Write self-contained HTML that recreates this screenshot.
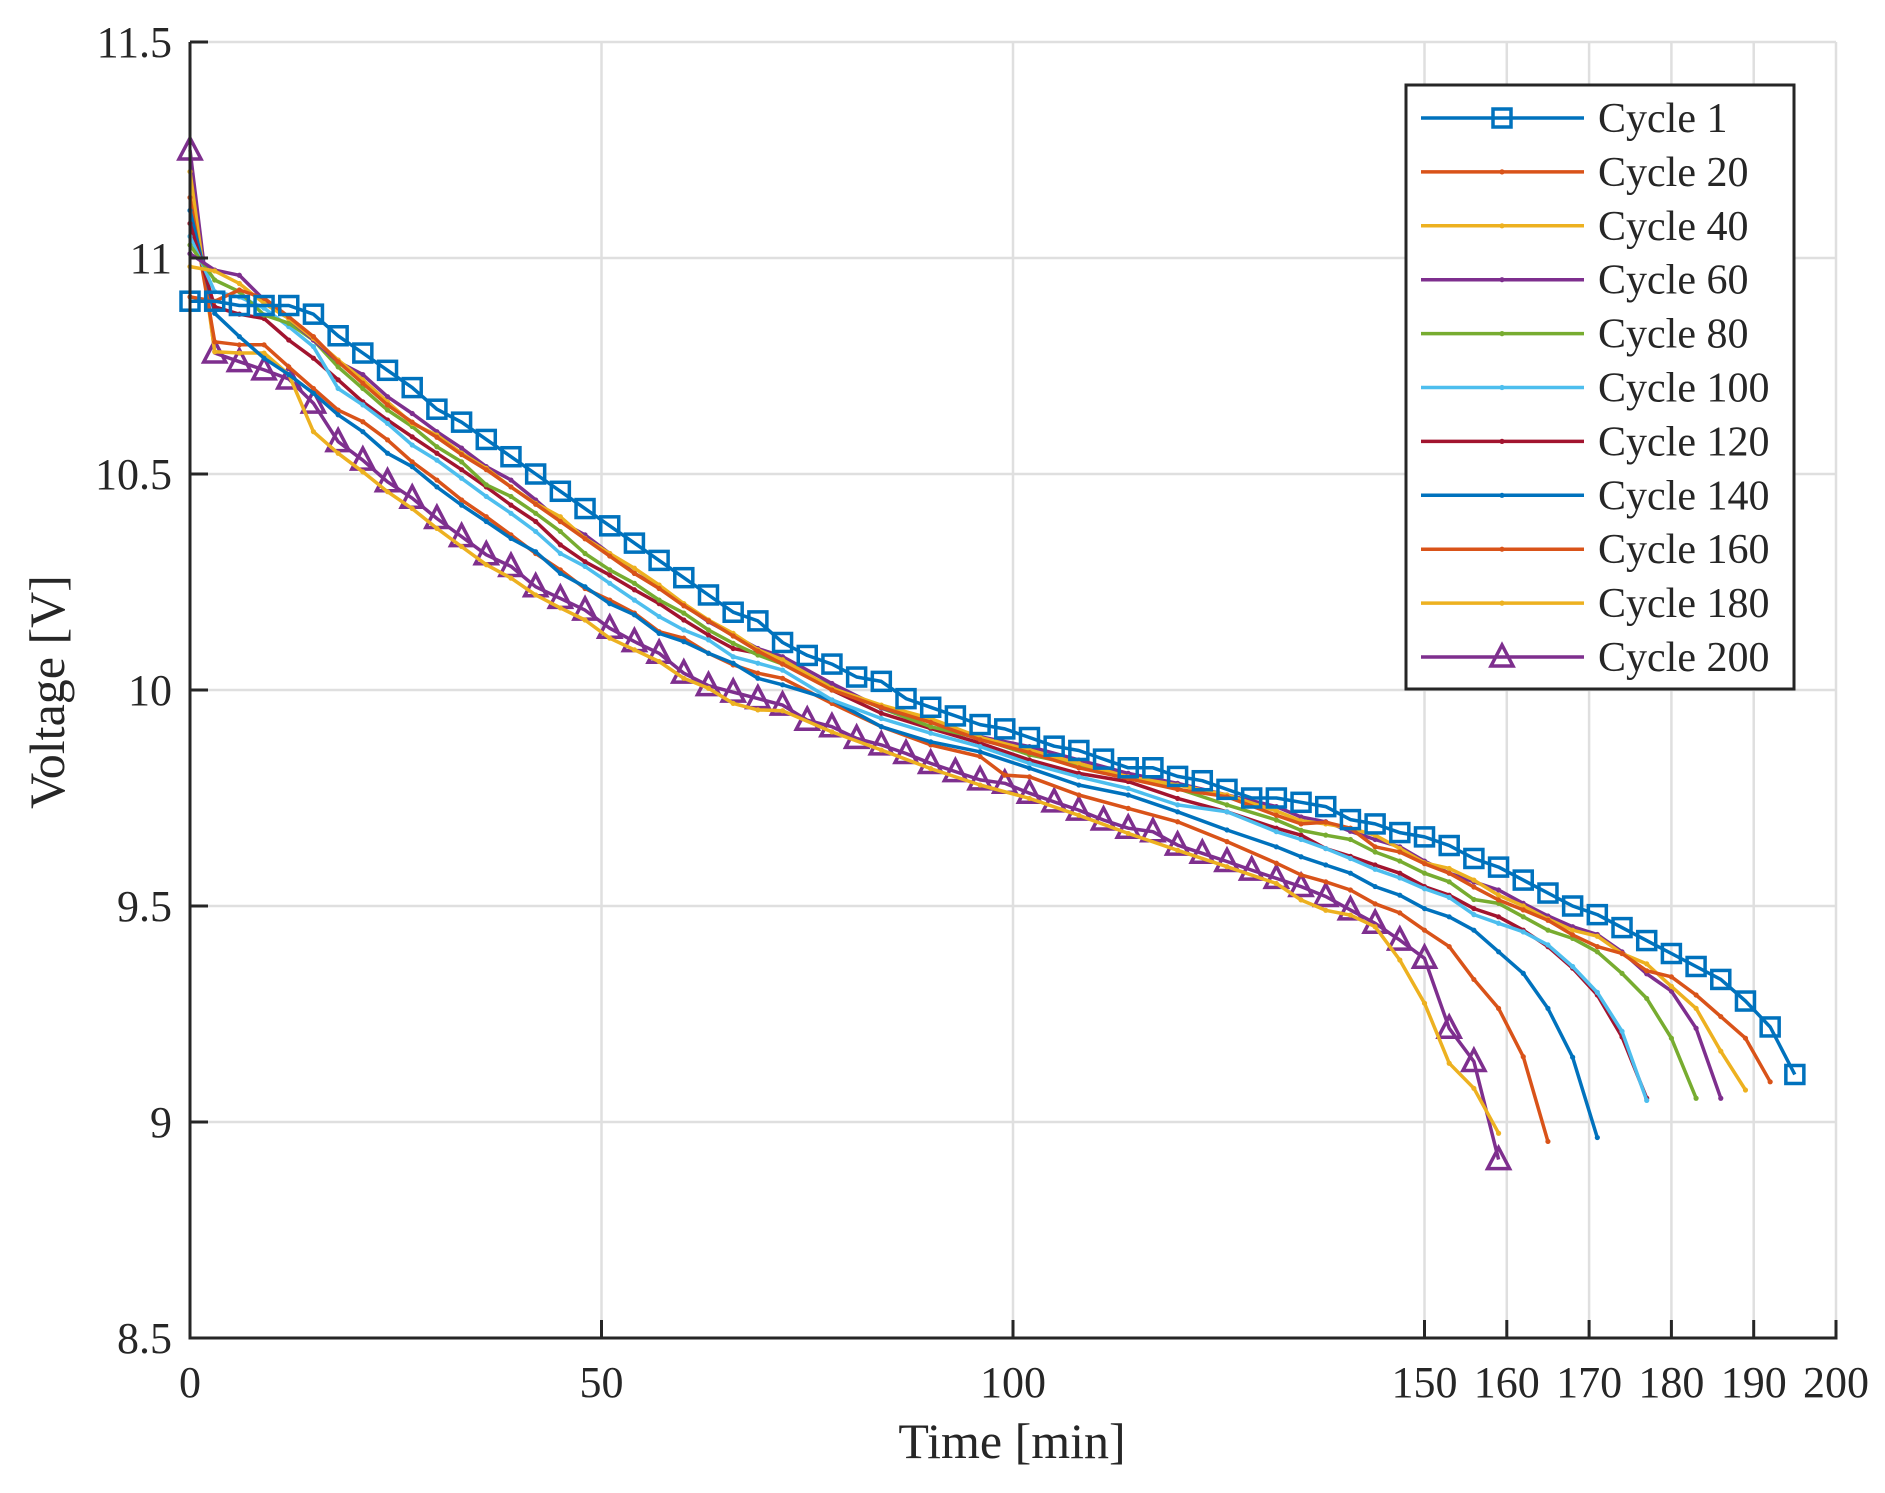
<!DOCTYPE html>
<html><head><meta charset="utf-8"><style>
html,body{margin:0;padding:0;background:#fff}
svg{display:block}
text{font-family:"Liberation Serif",serif;fill:#262626}
</style></head><body>
<svg id="chart" width="1885" height="1493" viewBox="0 0 1885 1493" xmlns="http://www.w3.org/2000/svg">
<rect x="0" y="0" width="1885" height="1493" fill="#fff"/>
<g id="grid"></g>
<g id="series"></g>
<g id="axes"></g>
<g id="legend"></g>
</svg>
<script>
const xTicks = [0, 50, 100, 150, 160, 170, 180, 190, 200];
const xTickLabels = ["0", "50", "100", "150", "160", "170", "180", "190", "200"];
const yTicks = [8.5, 9, 9.5, 10, 10.5, 11, 11.5];
const yTickLabels = ["8.5", "9", "9.5", "10", "10.5", "11", "11.5"];
const seriesNames = ["Cycle 1","Cycle 20","Cycle 40","Cycle 60","Cycle 80","Cycle 100","Cycle 120","Cycle 140","Cycle 160","Cycle 180","Cycle 200"];

function rng(a,b,s){const r=[];for(let t=a;t<=b+1e-9;t+=s)r.push(t);return r;}
const tEarly = rng(0,72,3);
const tMid = rng(78,132,6);

const c1T = rng(0,195,3);
const c1V = [10.9,10.9,10.89,10.89,10.89,10.87,10.82,10.78,10.74,10.70,10.65,10.62,10.58,10.54,10.50,10.46,10.42,10.38,10.34,10.30,10.26,10.22,10.18,10.16,10.11,10.08,10.06,10.03,10.02,9.98,9.96,9.94,9.92,9.91,9.89,9.87,9.86,9.84,9.82,9.82,9.80,9.79,9.77,9.75,9.75,9.74,9.73,9.70,9.69,9.67,9.66,9.64,9.61,9.59,9.56,9.53,9.50,9.48,9.45,9.42,9.39,9.36,9.33,9.28,9.22,9.11];

const c20T = tEarly.concat(tMid, rng(135,192,3));
const c20V = [10.91,10.90,10.926,10.907,10.864,10.818,10.76,10.71,10.66,10.62,10.585,10.545,10.51,10.47,10.43,10.39,10.35,10.31,10.27,10.235,10.195,10.16,10.125,10.09,10.06,
10.0,9.96,9.925,9.885,9.855,9.82,9.795,9.77,9.753,9.71,
9.69,9.694,9.68,9.637,9.625,9.598,9.576,9.544,9.514,9.491,9.467,9.433,9.406,9.39,9.35,9.336,9.294,9.244,9.194,9.093];

const c40T = tEarly.concat(tMid, rng(135,189,3));
const c40V = [10.98,10.97,10.941,10.895,10.86,10.814,10.764,10.718,10.667,10.617,10.59,10.548,10.513,10.47,10.432,10.401,10.351,10.316,10.282,10.243,10.2,10.162,10.131,10.093,10.07,
10.004,9.965,9.934,9.89,9.861,9.83,9.799,9.78,9.757,9.72,
9.697,9.69,9.68,9.664,9.633,9.6,9.587,9.56,9.525,9.50,9.47,9.444,9.43,9.39,9.366,9.314,9.263,9.164,9.074];

const c60T = tEarly.concat(tMid, rng(135,186,3));
const c60V = [11.01,10.972,10.96,10.903,10.86,10.81,10.76,10.73,10.679,10.64,10.598,10.56,10.517,10.486,10.44,10.39,10.359,10.316,10.27,10.239,10.197,10.158,10.127,10.096,10.077,
10.015,9.958,9.927,9.892,9.869,9.838,9.807,9.784,9.757,9.73,
9.706,9.695,9.673,9.654,9.637,9.604,9.576,9.556,9.537,9.506,9.477,9.452,9.434,9.394,9.343,9.303,9.217,9.055];

const c80T = tEarly.concat(tMid, rng(135,183,3));
const c80V = [11.03,10.949,10.922,10.868,10.849,10.81,10.748,10.698,10.648,10.61,10.563,10.528,10.475,10.448,10.409,10.367,10.316,10.278,10.247,10.208,10.178,10.139,10.108,10.081,10.06,
10.008,9.958,9.915,9.888,9.85,9.826,9.803,9.772,9.734,9.699,
9.675,9.664,9.654,9.625,9.604,9.576,9.556,9.515,9.506,9.475,9.444,9.425,9.394,9.344,9.286,9.194,9.055];

const c100T = tEarly.concat(tMid, rng(135,177,3));
const c100V = [11.05,10.922,10.91,10.884,10.841,10.795,10.698,10.66,10.617,10.567,10.532,10.49,10.448,10.409,10.367,10.316,10.286,10.247,10.208,10.17,10.139,10.116,10.077,10.062,10.046,
9.977,9.934,9.9,9.869,9.83,9.799,9.772,9.734,9.718,9.672,
9.654,9.633,9.61,9.585,9.565,9.54,9.52,9.48,9.46,9.44,9.41,9.36,9.30,9.21,9.05];

const c120T = tEarly.concat(tMid, rng(135,177,3));
const c120V = [11.08,10.887,10.87,10.86,10.81,10.768,10.718,10.667,10.625,10.586,10.548,10.51,10.47,10.428,10.39,10.336,10.297,10.266,10.232,10.2,10.162,10.127,10.096,10.085,10.07,
10.0,9.946,9.911,9.877,9.838,9.807,9.788,9.749,9.718,9.68,
9.664,9.633,9.615,9.595,9.576,9.545,9.525,9.494,9.475,9.444,9.406,9.356,9.294,9.197,9.055];

const c140T = tEarly.concat(tMid, rng(135,171,3));
const c140V = [11.11,10.872,10.818,10.768,10.73,10.687,10.637,10.598,10.548,10.517,10.47,10.428,10.39,10.351,10.32,10.27,10.239,10.2,10.174,10.131,10.112,10.085,10.062,10.027,10.012,
9.977,9.915,9.88,9.857,9.819,9.78,9.757,9.718,9.676,9.637,
9.614,9.595,9.576,9.545,9.525,9.494,9.475,9.444,9.394,9.344,9.263,9.15,8.964];

const c160T = tEarly.concat([78,84,90,96,99,102,108,114,120,126,132], rng(135,165,3));
const c160V = [11.14,10.806,10.799,10.799,10.748,10.698,10.648,10.621,10.579,10.528,10.486,10.44,10.401,10.359,10.316,10.278,10.235,10.208,10.178,10.135,10.12,10.085,10.058,10.039,10.027,
9.969,9.915,9.873,9.846,9.803,9.799,9.757,9.726,9.695,9.649,9.599,
9.572,9.556,9.537,9.505,9.484,9.444,9.406,9.33,9.263,9.151,8.955];

const c180T = tEarly.concat(tMid, rng(135,159,3));
const c180V = [11.2,10.783,10.78,10.78,10.73,10.598,10.548,10.505,10.459,10.42,10.374,10.332,10.29,10.259,10.22,10.19,10.162,10.12,10.093,10.066,10.027,10.004,9.969,9.954,9.952,
9.903,9.861,9.818,9.78,9.749,9.71,9.668,9.629,9.591,9.552,
9.514,9.49,9.479,9.452,9.375,9.275,9.136,9.078,8.974];

const c200T = rng(0,159,3);
const c200V = [11.25,10.78,10.76,10.741,10.72,10.664,10.575,10.532,10.482,10.444,10.397,10.355,10.313,10.286,10.239,10.212,10.185,10.143,10.112,10.085,10.039,10.01,9.995,9.98,
9.965,9.93,9.915,9.888,9.873,9.853,9.83,9.811,9.792,9.784,9.761,9.741,9.722,9.699,9.68,9.672,9.641,9.622,9.603,9.583,9.564,
9.545,9.522,9.491,9.46,9.421,9.379,9.217,9.14,8.913];

const seriesT = [c1T,c20T,c40T,c60T,c80T,c100T,c120T,c140T,c160T,c180T,c200T];
const seriesV = [c1V,c20V,c40V,c60V,c80V,c100V,c120V,c140V,c160V,c180V,c200V];
const colors = ["#0072BD","#D95319","#EDB120","#7E2F8E","#77AC30","#4DBEEE","#A2142F","#0072BD","#D95319","#EDB120","#7E2F8E"];
const markers = ["square","dot","dot","dot","dot","dot","dot","dot","dot","dot","triangle"];

const X0=190, X1=1836, Y0=42, Y1=1338;
const xMin=0,xMax=200,yMin=8.5,yMax=11.5;
function xs(t){return X0+(t-xMin)/(xMax-xMin)*(X1-X0);}
function ys(v){return Y1-(v-yMin)/(yMax-yMin)*(Y1-Y0);}
const NS="http://www.w3.org/2000/svg";
function mk(tag,attrs,parent){const e=document.createElementNS(NS,tag);for(const k in attrs)e.setAttribute(k,attrs[k]);parent.appendChild(e);return e;}

const grid=document.getElementById('grid');
xTicks.forEach((t,i)=>{
  const g=mk('line',{x1:xs(t),x2:xs(t),y1:Y0,y2:Y1,stroke:'#dfdfdf','stroke-width':2.5},grid);
  
  
});
yTicks.forEach((v,i)=>{
  const g=mk('line',{x1:X0,x2:X1,y1:ys(v),y2:ys(v),stroke:'#dfdfdf','stroke-width':2.5},grid);
  
  
});

const sg=document.getElementById('series');
function marker(type,x,y,color,parent){
  let m;
  if(type==='square'){m=mk('rect',{x:x-9,y:y-9,width:18,height:18,fill:'none',stroke:color,'stroke-width':3.5},parent);}
  else if(type==='triangle'){m=mk('polygon',{points:`${x},${y-12} ${x-11},${y+9} ${x+11},${y+9}`,fill:'none',stroke:color,'stroke-width':3.5,'stroke-linejoin':'miter'},parent);}
  else {m=mk('circle',{cx:x,cy:y,r:2.6,fill:color},parent);}
  return m;
}
for(let s=seriesT.length-1;s>=0;s--){
  const T=seriesT[s],V=seriesV[s];
  const g=mk('g',{},sg);
  
  
  const pts=T.map((t,i)=>xs(t).toFixed(1)+','+ys(V[i]).toFixed(1)).join(' ');
  const pl=mk('polyline',{points:pts,fill:'none',stroke:colors[s],'stroke-width':3.5,'stroke-linejoin':'round'},g);
  
  
  T.forEach((t,i)=>{
    const m=marker(markers[s],xs(t),ys(V[i]),colors[s],g);
    
    
  });
}

const ax=document.getElementById('axes');
const yl=mk('line',{x1:X0,x2:X0,y1:Y0,y2:Y1+1.5,stroke:'#262626','stroke-width':3},ax);


const xl=mk('line',{x1:X0-1.5,x2:X1+1.5,y1:Y1,y2:Y1,stroke:'#262626','stroke-width':3},ax);


xTicks.forEach((t,i)=>{
  const tk=mk('line',{x1:xs(t),x2:xs(t),y1:Y1,y2:Y1-18,stroke:'#262626','stroke-width':3},ax);
  
  
  const tx=mk('text',{x:xs(t),y:1397,'text-anchor':'middle','font-size':44},ax);
  tx.textContent=xTickLabels[i];
  
  
});
yTicks.forEach((v,i)=>{
  const tk=mk('line',{x1:X0,x2:X0+18,y1:ys(v),y2:ys(v),stroke:'#262626','stroke-width':3},ax);
  
  
  const tx=mk('text',{x:172,y:ys(v)+15,'text-anchor':'end','font-size':44},ax);
  tx.textContent=yTickLabels[i];
  
  
});
const xt=mk('text',{x:1012,y:1458,'text-anchor':'middle','font-size':50},ax);
xt.textContent='Time [min]';


const yt=mk('text',{x:0,y:0,'text-anchor':'middle','font-size':50,transform:'translate(64,692) rotate(-90)'},ax);
yt.textContent='Voltage [V]';



const lg=document.getElementById('legend');
const box=mk('rect',{x:1406,y:85,width:388,height:604,fill:'#fff',stroke:'#262626','stroke-width':3},lg);


seriesNames.forEach((n,i)=>{
  const cy=118+i*53.9;
  const g=mk('g',{},lg);
  
  
  mk('line',{x1:1421,x2:1584,y1:cy,y2:cy,stroke:colors[i],'stroke-width':3.5},g);
  marker(markers[i],1502,cy,colors[i],g);
  const tx=mk('text',{x:1598,y:cy+14,'font-size':42},g);
  tx.textContent=n;
  
  
});
</script>
</body></html>
